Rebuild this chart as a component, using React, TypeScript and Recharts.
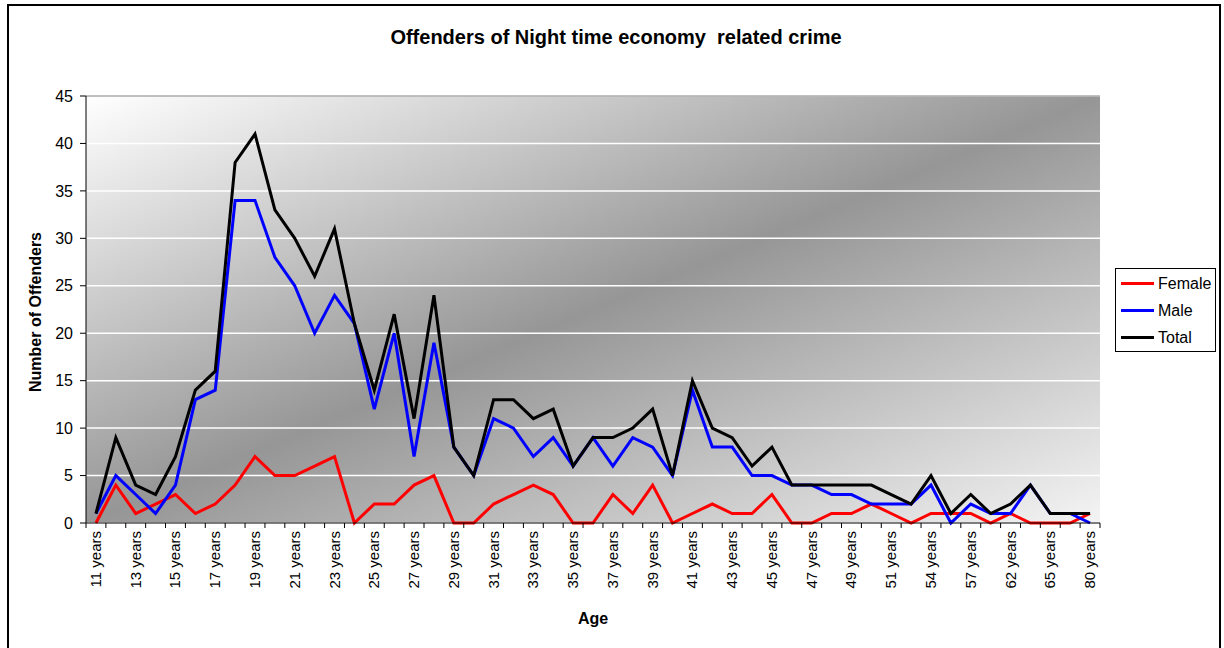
import { LineChart, Line, XAxis, YAxis, CartesianGrid, Legend, ReferenceLine } from "recharts";

// Age bands (only every other one is labelled on the axis)
const AGES = [
  "11 years", "12 years", "13 years", "14 years", "15 years", "16 years", "17 years", "18 years",
  "19 years", "20 years", "21 years", "22 years", "23 years", "24 years", "25 years", "26 years",
  "27 years", "28 years", "29 years", "30 years", "31 years", "32 years", "33 years", "34 years",
  "35 years", "36 years", "37 years", "38 years", "39 years", "40 years", "41 years", "42 years",
  "43 years", "44 years", "45 years", "46 years", "47 years", "48 years", "49 years", "50 years",
  "51 years", "52 years", "54 years", "55 years", "57 years", "59 years", "62 years", "63 years",
  "65 years", "68 years", "80 years",
];

const FEMALE = [
  0, 4, 1, 2, 3, 1, 2, 4, 7, 5, 5, 6, 7, 0, 2, 2, 4, 5, 0, 0, 2, 3, 4, 3, 0, 0,
  3, 1, 4, 0, 1, 2, 1, 1, 3, 0, 0, 1, 1, 2, 1, 0, 1, 1, 1, 0, 1, 0, 0, 0, 1,
];

const MALE = [
  1, 5, 3, 1, 4, 13, 14, 34, 34, 28, 25, 20, 24, 21, 12, 20, 7, 19, 8, 5, 11, 10, 7, 9, 6, 9,
  6, 9, 8, 5, 14, 8, 8, 5, 5, 4, 4, 3, 3, 2, 2, 2, 4, 0, 2, 1, 1, 4, 1, 1, 0,
];

const TOTAL = [
  1, 9, 4, 3, 7, 14, 16, 38, 41, 33, 30, 26, 31, 21, 14, 22, 11, 24, 8, 5, 13, 13, 11, 12, 6, 9,
  9, 10, 12, 5, 15, 10, 9, 6, 8, 4, 4, 4, 4, 4, 3, 2, 5, 1, 3, 1, 2, 4, 1, 1, 1,
];

const Y_TICKS = [0, 5, 10, 15, 20, 25, 30, 35, 40, 45];

const data = AGES.map((age, i) => ({ age, Female: FEMALE[i], Male: MALE[i], Total: TOTAL[i] }));

const W = 1224;
const H = 648;
const PLOT = { left: 86, top: 96, right: 1100, bottom: 523 };
const BAND = (PLOT.right - PLOT.left) / AGES.length;
const FONT = "'Liberation Sans', Arial, sans-serif";

function AgeTick(props: any) {
  const { x, y, payload, index } = props;
  const axisY = y - 5;
  const left = x - BAND / 2;
  return (
    <g>
      <line x1={left} y1={axisY} x2={left} y2={axisY + 5} stroke="#000" />
      {index === AGES.length - 1 && (
        <line x1={x + BAND / 2} y1={axisY} x2={x + BAND / 2} y2={axisY + 5} stroke="#000" />
      )}
      {index % 2 === 0 && (
        <text
          x={x + 5}
          y={axisY + 8}
          transform={`rotate(-90 ${x + 5} ${axisY + 8})`}
          textAnchor="end"
          fontSize={15}
          fontFamily={FONT}
          fill="#000"
        >
          {payload.value}
        </text>
      )}
    </g>
  );
}

function LegendBox({ payload }: any) {
  return (
    <div
      style={{
        border: "1px solid #000", background: "#fff", width: 101, height: 84, padding: "1px 0",
        fontFamily: FONT, fontSize: 16, boxSizing: "border-box",
      }}
    >
      {(payload || []).map((p: any) => (
        <div key={p.value} style={{ display: "flex", alignItems: "center", height: 27 }}>
          <span style={{ width: 33, height: 3, background: p.color, marginLeft: 5, marginRight: 4 }} />
          <span>{p.value}</span>
        </div>
      ))}
    </div>
  );
}

export default function App() {
  return (
    <div style={{ position: "fixed", left: 0, top: 0, width: W, height: H, background: "#fff", overflow: "hidden" }}>
      <svg width={0} height={0} style={{ position: "absolute" }}>
        <defs>
          <linearGradient id="plotBg" x1="0" y1="0" x2="1" y2="1">
            <stop offset="0" stopColor="#ffffff" />
            <stop offset="0.5" stopColor="#969696" />
            <stop offset="1" stopColor="#f4f4f4" />
          </linearGradient>
        </defs>
      </svg>
      <div
        style={{
          position: "absolute", left: 7, top: 4, width: 1214, height: 670,
          border: "2px solid #000", boxSizing: "border-box",
        }}
      />
      <div
        style={{
          position: "absolute", left: 0, width: 1232, top: 26, textAlign: "center",
          fontFamily: FONT, fontSize: 20, fontWeight: "bold", whiteSpace: "pre",
        }}
      >
        {"Offenders of Night time economy  related crime"}
      </div>
      <div
        style={{
          position: "absolute", left: 36, top: 312, transform: "translate(-50%, -50%) rotate(-90deg)",
          fontFamily: FONT, fontSize: 16, fontWeight: "bold", whiteSpace: "nowrap",
        }}
      >
        Number of Offenders
      </div>
      <div
        style={{
          position: "absolute", left: 593, top: 619, transform: "translate(-50%, -50%)",
          fontFamily: FONT, fontSize: 16, fontWeight: "bold",
        }}
      >
        Age
      </div>
      <div style={{ position: "absolute", left: 0, top: 0 }}>
        <LineChart
          width={W}
          height={H}
          data={data}
          margin={{ top: PLOT.top, left: 0, right: W - PLOT.right, bottom: 0 }}
        >
          <CartesianGrid fill="url(#plotBg)" vertical={false} stroke="#ffffff" strokeWidth={1.5} />
          <XAxis
            dataKey="age"
            scale="band"
            interval={0}
            height={H - PLOT.bottom}
            tickLine={false}
            tickSize={5}
            tickMargin={0}
            axisLine={{ stroke: "#000" }}
            tick={<AgeTick />}
          />
          <YAxis
            width={PLOT.left}
            domain={[0, 45]}
            ticks={Y_TICKS}
            interval={0}
            tickSize={6}
            tickMargin={7}
            axisLine={{ stroke: "#000" }}
            tickLine={{ stroke: "#000" }}
            tick={{ fill: "#000", fontSize: 16, fontFamily: FONT }}
          />
          <YAxis
            yAxisId="edge"
            orientation="right"
            width={0}
            tick={false}
            tickLine={false}
            axisLine={{ stroke: "#808080" }}
          />
          <ReferenceLine y={45} stroke="#808080" />
          <Line type="linear" dataKey="Female" stroke="#ff0000" strokeWidth={3} dot={false} isAnimationActive={false} />
          <Line type="linear" dataKey="Male" stroke="#0000ff" strokeWidth={3} dot={false} isAnimationActive={false} />
          <Line type="linear" dataKey="Total" stroke="#000000" strokeWidth={3} dot={false} isAnimationActive={false} />
          <Legend
            layout="horizontal"
            verticalAlign="middle"
            align="center"
            content={<LegendBox />}
            wrapperStyle={{ position: "absolute", left: 1115, top: 268, width: 101, height: 84 }}
          />
        </LineChart>
      </div>
    </div>
  );
}
